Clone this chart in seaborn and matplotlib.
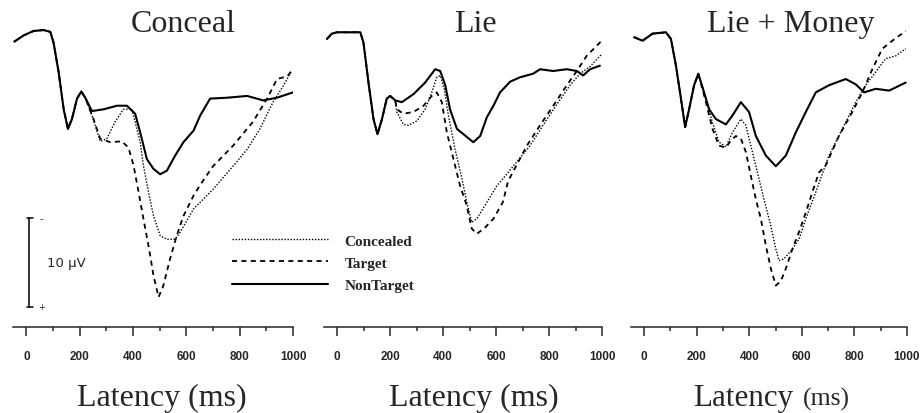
import matplotlib
matplotlib.use('Agg')
import matplotlib.pyplot as plt
import pandas as pd
import seaborn as sns

# ERP traces: latency in ms, amplitude in microvolts
# (positive = downwards, negative-up convention)
conditions = ['Concealed', 'Target', 'NonTarget']
titles = ['Conceal', 'Lie', 'Lie + Money']

# --- Conceal ---
conceal_early_ms = [-45, -10, 27, 65, 90, 102, 121, 140, 156, 171, 190, 206, 221]
conceal_early_uv = [0.3, -0.4, -0.9, -1.0, -0.8, 0.4, 3.7, 7.9, 10.1, 9.0, 6.7, 5.9, 6.6]
conceal_concealed_ms = [251, 277, 302, 333, 364, 396, 427, 439, 458, 477, 502, 527, 558,
                        577, 627, 700, 775, 828, 876, 925, 963, 993]
conceal_concealed_uv = [9.0, 11.5, 11.2, 9.3, 7.9, 7.9, 11.6, 14.2, 17.2, 19.9, 22.1, 22.5,
                        22.5, 21.7, 19.1, 16.9, 14.3, 12.4, 10.1, 7.1, 5.3, 3.7]
conceal_target_ms = [252, 277, 315, 358, 383, 402, 421, 439, 458, 477, 496, 514, 539, 564,
                     589, 627, 652, 700, 775, 850, 903, 940, 978, 1000]
conceal_target_uv = [9.0, 11.2, 11.6, 11.5, 12.2, 14.2, 17.2, 20.2, 23.2, 26.6, 29.0, 27.7,
                     24.7, 22.1, 19.9, 17.6, 16.4, 14.3, 12.0, 9.3, 6.7, 4.5, 4.2, 3.4]
conceal_nontarget_ms = [246, 290, 340, 377, 408, 427, 452, 477, 502, 527, 558, 589, 627,
                        652, 689, 753, 828, 888, 940, 1000]
conceal_nontarget_uv = [8.1, 7.9, 7.5, 7.5, 8.4, 10.5, 13.5, 14.6, 15.2, 14.8, 13.1, 11.6,
                        10.3, 8.6, 6.7, 6.6, 6.4, 6.9, 6.6, 6.0]

# --- Lie ---
lie_early_ms = [-39, -20, -1, 49, 87, 99, 118, 137, 152, 169, 187, 200, 219]
lie_early_uv = [0.0, -0.6, -0.75, -0.75, -0.75, 0.4, 4.9, 9.0, 10.7, 9.0, 6.7, 6.4, 6.9]
lie_concealed_ms = [225, 250, 269, 301, 332, 357, 376, 389, 404, 420, 445, 471, 489, 508,
                    527, 558, 603, 640, 728, 777, 826, 879, 917, 955, 999]
lie_concealed_uv = [8.2, 9.6, 9.7, 9.2, 7.9, 6.0, 4.3, 4.1, 5.6, 8.6, 12.4, 15.7, 18.3,
                    20.6, 20.2, 18.7, 16.5, 15.2, 12.0, 9.7, 7.5, 5.2, 3.9, 3.1, 1.7]
lie_target_ms = [225, 250, 288, 326, 357, 376, 395, 414, 439, 464, 489, 508, 527, 558, 590,
                 626, 645, 716, 766, 816, 867, 905, 942, 999]
lie_target_uv = [7.9, 8.4, 8.2, 7.5, 6.4, 6.0, 7.1, 10.5, 13.5, 16.5, 18.7, 21.3, 21.9,
                 21.2, 20.2, 18.3, 16.0, 12.0, 9.7, 7.5, 5.2, 3.6, 1.9, 0.2]
lie_nontarget_ms = [244, 288, 332, 370, 389, 408, 426, 452, 489, 514, 540, 565, 590, 615,
                    653, 691, 740, 766, 815, 867, 905, 929, 955, 992]
lie_nontarget_uv = [7.1, 6.2, 4.9, 3.4, 3.6, 5.2, 7.9, 10.1, 11.0, 11.6, 10.9, 8.8, 7.5,
                    6.0, 4.8, 4.3, 3.9, 3.4, 3.6, 3.4, 3.6, 4.1, 3.4, 3.0]

# --- Lie + Money ---
money_early_ms = [-38, -6, 32, 83, 102, 121, 140, 156, 171, 190, 206]
money_early_uv = [-0.2, 0.2, -0.6, -0.75, 0.0, 3.0, 6.7, 9.9, 7.9, 5.2, 3.9]
money_concealed_ms = [235, 260, 285, 311, 336, 368, 387, 406, 431, 456, 482, 501, 513, 532,
                      564, 589, 615, 653, 703, 754, 805, 843, 881, 919, 957, 995]
money_concealed_uv = [6.7, 9.4, 11.6, 12.1, 10.5, 9.0, 9.7, 12.0, 15.0, 18.0, 21.0, 23.6,
                      24.9, 24.7, 23.6, 22.5, 20.2, 17.2, 13.1, 10.1, 7.1, 5.2, 3.7, 2.2,
                      1.9, 1.1]
money_target_ms = [235, 260, 285, 311, 330, 349, 368, 387, 406, 425, 444, 463, 482, 501,
                   520, 539, 564, 589, 615, 640, 665, 691, 741, 792, 830, 868, 906, 944, 995]
money_target_uv = [7.1, 10.1, 12.0, 12.2, 11.4, 10.9, 11.2, 12.7, 15.4, 18.0, 20.2, 23.2,
                   25.8, 27.7, 27.2, 25.8, 23.6, 21.7, 19.5, 17.2, 15.0, 14.2, 10.9, 8.2,
                   6.0, 3.4, 1.1, 0.2, -0.9]
money_nontarget_ms = [228, 247, 273, 311, 336, 368, 399, 425, 463, 501, 539, 577, 615, 653,
                      703, 767, 805, 837, 881, 932, 995]
money_nontarget_uv = [6.0, 7.9, 9.0, 9.6, 8.6, 7.1, 8.2, 10.9, 13.1, 14.3, 13.1, 10.5, 8.2,
                      6.0, 5.2, 4.5, 5.1, 6.0, 5.6, 5.8, 4.9]

panels = [
    (conceal_early_ms, conceal_early_uv,
     [(conceal_concealed_ms, conceal_concealed_uv), (conceal_target_ms, conceal_target_uv),
      (conceal_nontarget_ms, conceal_nontarget_uv)]),
    (lie_early_ms, lie_early_uv,
     [(lie_concealed_ms, lie_concealed_uv), (lie_target_ms, lie_target_uv),
      (lie_nontarget_ms, lie_nontarget_uv)]),
    (money_early_ms, money_early_uv,
     [(money_concealed_ms, money_concealed_uv), (money_target_ms, money_target_uv),
      (money_nontarget_ms, money_nontarget_uv)]),
]

line_styles = {'Concealed': ((0, (1, 1.2)), 1.0),
               'Target': ((0, (2.8, 2.4)), 1.3),
               'NonTarget': ('-', 1.5)}

sns.set_style('white')
plt.rcParams['font.family'] = ['Liberation Serif', 'DejaVu Serif']

W, H = 921, 414


def fx(x):
    return x / W


def fy(y):
    return 1 - y / H


fig = plt.figure(figsize=(W / 100, H / 100), dpi=100)

# pixel extents of each time axis (-50 .. 1000 ms)
axes_px = [(13, 293), (324, 602), (631, 907)]
axes = []
for (left, right), (early_ms, early_uv, series) in zip(axes_px, panels):
    ax = fig.add_axes([fx(left), fy(328), (right - left) / W, 328 / H])
    rows = []
    for cond, (ms, uv) in zip(conditions, series):
        for t, v in zip(early_ms + ms, early_uv + uv):
            rows.append({'ms': t, 'uv': v, 'cond': cond})
    df = pd.DataFrame(rows)
    for cond in conditions:
        ls, lw = line_styles[cond]
        sns.lineplot(data=df[df['cond'] == cond], x='ms', y='uv', ax=ax, color='black',
                     linestyle=ls, lw=lw, estimator=None, sort=False, label=cond,
                     legend=False)
    ax.set_xlim(-50, 1000)
    ax.set_ylim(32.36, -4.49)
    ax.set_xlabel('')
    ax.set_ylabel('')
    ax.set_yticks([])
    ax.set_xticks(range(0, 1001, 200))
    ax.set_xticks(range(100, 1000, 200), minor=True)
    ax.tick_params(axis='x', which='major', bottom=True, direction='out', length=6.5,
                   width=1.1, pad=10, labelsize=8.5)
    ax.tick_params(axis='x', which='minor', bottom=True, direction='out', length=3,
                   width=1.1)
    for lab in ax.get_xticklabels():
        lab.set_fontfamily(['Liberation Sans', 'DejaVu Sans'])
        lab.set_fontweight('bold')
    for side in ['left', 'right', 'top']:
        ax.spines[side].set_visible(False)
    ax.spines['bottom'].set_linewidth(1.1)
    ax.patch.set_alpha(0)
    axes.append(ax)

# panel titles and axis labels
for x, title in zip([183, 475, 791], titles):
    fig.text(fx(x), fy(32), title, ha='center', va='baseline', fontsize=23)
fig.text(fx(162), fy(406), 'Latency (ms)', ha='center', va='baseline', fontsize=23)
fig.text(fx(474), fy(406), 'Latency (ms)', ha='center', va='baseline', fontsize=23)
fig.text(fx(693), fy(406), 'Latency', ha='left', va='baseline', fontsize=22.4)
fig.text(fx(803), fy(406), '(ms)', ha='left', va='baseline', fontsize=18.5)

# 10 microvolt scale bar in the first panel
ax1 = axes[0]
scale_uv = 10
bar_ms, bar_top = 11, 20.1
ax1.plot([bar_ms, bar_ms], [bar_top, bar_top + scale_uv], color='black', lw=1.1)
for yv in [bar_top, bar_top + scale_uv]:
    ax1.plot([bar_ms - 10, bar_ms + 15], [yv, yv], color='black', lw=1.1)
ax1.text(bar_ms + 45, bar_top, '-', ha='center', va='center', fontsize=7,
         family='DejaVu Sans')
ax1.text(bar_ms + 45, bar_top + scale_uv, '+', ha='center', va='center', fontsize=6,
         family='DejaVu Sans')
fig.text(fx(47), fy(264), '10 µV', ha='left', va='center', fontsize=9.5,
         family='DejaVu Sans')

handles, labels = ax1.get_legend_handles_labels()
ax1.legend(handles[:3], labels[:3], loc='upper left', bbox_to_anchor=(fx(232), fy(235)),
           bbox_transform=fig.transFigure, frameon=False, borderpad=0, borderaxespad=0,
           handlelength=6.3, handletextpad=1.05, labelspacing=0.55,
           prop={'family': 'Liberation Serif', 'size': 11, 'weight': 'bold'})

fig.savefig('out.png', dpi=100)
